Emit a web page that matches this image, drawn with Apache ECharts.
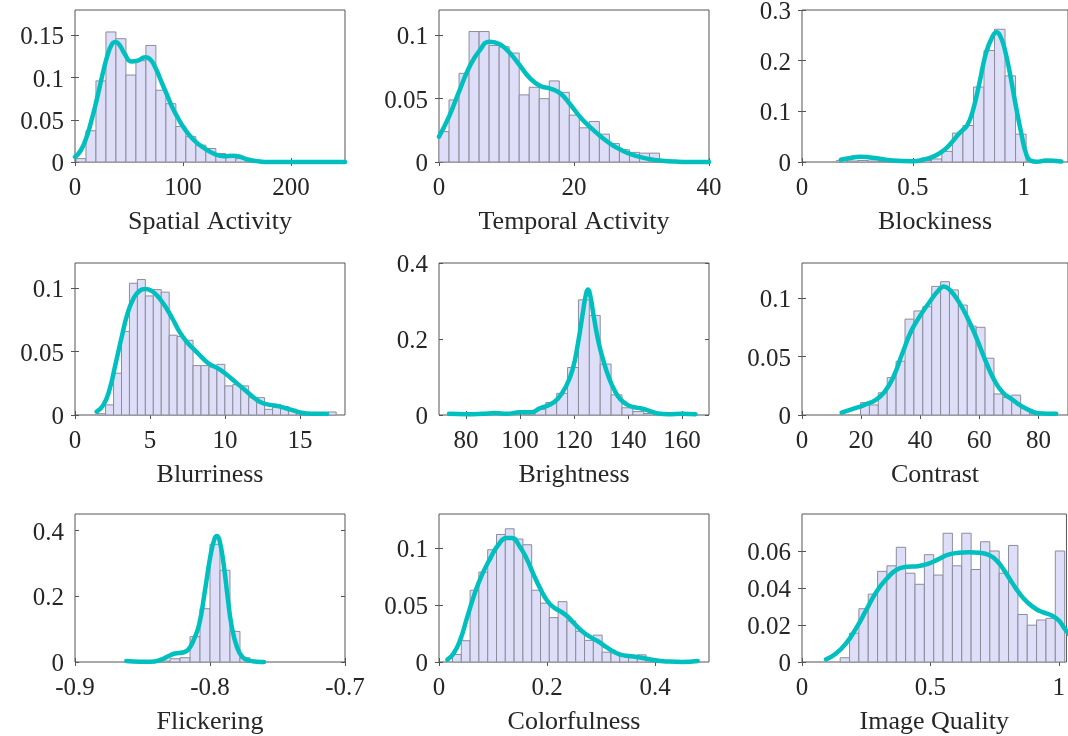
<!DOCTYPE html>
<html><head><meta charset="utf-8">
<script src="https://cdn.jsdelivr.net/npm/echarts@6/dist/echarts.min.js"></script>
<style>html,body{margin:0;padding:0;background:#fff}#c{width:1068px;height:736px}</style>
</head><body><div id="c"></div>
<script>
// ---------- DATA ----------
const names = ['Spatial Activity','Temporal Activity','Blockiness','Blurriness','Brightness','Contrast','Flickering','Colorfulness','Image Quality'];

// bin layout: [first edge, bin width]
const spatialBin = [0.9, 9.25];
const spatialHist = [0.004,0.037,0.096,0.154,0.146,0.103,0.120,0.138,0.085,0.069,0.042,0.030,0.020,0.016,0.010,0.007,0.004,0.002,0.001];
const spatialKde = [[0,0.006],[5,0.013],[10,0.027],[15,0.048],[20,0.073],[25,0.101],[30,0.126],[34,0.139],[37.5,0.142],[41,0.139],[46,0.128],[52,0.119],[58,0.120],[65,0.124],[70,0.121],[75,0.110],[80,0.095],[85,0.080],[90,0.065],[95,0.053],[100,0.042],[110,0.026],[120,0.016],[130,0.009],[138,0.0068],[146,0.0075],[152,0.0065],[160,0.003],[170,0.0008],[180,0],[250,0]];
const spatialXRange = [0,250], spatialYRange = [0,0.18];
const spatialXTicks = [0,100,200], spatialYTicks = [0,0.05,0.1,0.15];

const temporalBin = [0, 1.485];
const temporalHist = [0.024,0.049,0.070,0.103,0.103,0.092,0.091,0.086,0.053,0.059,0.050,0.064,0.055,0.037,0.027,0.032,0.022,0.0145,0.0097,0.0076,0.007,0.007,0.001];
const temporalKde = [[0,0.020],[1.5,0.036],[3,0.056],[4.5,0.075],[6,0.088],[7.5,0.095],[9,0.093],[10.5,0.086],[12,0.076],[13.5,0.066],[15,0.060],[16.5,0.058],[18,0.054],[19.5,0.045],[21,0.035],[22.5,0.027],[24,0.020],[25.5,0.014],[27,0.0095],[28.5,0.006],[30,0.0037],[31.5,0.002],[33,0.001],[35,0.0003],[37,0],[40,0]];
const temporalXRange = [0,40], temporalYRange = [0,0.12];
const temporalXTicks = [0,20,40], temporalYTicks = [0,0.05,0.1];

const blockBin = [0.156, 0.0475];
const blockHist = [0.003,0.002,0.003,0.002,0.001,0.002,0.002,0.001,0.003,0.006,0.021,0.057,0.072,0.148,0.220,0.262,0.170,0.055];
const blockKde = [[0.175,0.0045],[0.22,0.008],[0.26,0.0105],[0.3,0.0095],[0.35,0.0065],[0.4,0.0035],[0.45,0.0018],[0.5,0.0015],[0.55,0.005],[0.6,0.012],[0.64,0.023],[0.68,0.041],[0.70,0.052],[0.725,0.063],[0.745,0.072],[0.77,0.100],[0.80,0.155],[0.83,0.215],[0.86,0.248],[0.878,0.256],[0.895,0.248],[0.915,0.222],[0.94,0.170],[0.965,0.110],[0.99,0.055],[1.01,0.018],[1.03,0.003],[1.06,0.0005],[1.1,0.003],[1.17,0.001]];
const blockXRange = [0,1.2], blockYRange = [0,0.3];
const blockXTicks = [0,0.5,1], blockYTicks = [0,0.1,0.2,0.3];

const blurBin = [1.51, 0.53];
const blurHist = [0.001,0.008,0.033,0.066,0.104,0.107,0.094,0.099,0.097,0.063,0.062,0.059,0.039,0.039,0.038,0.040,0.023,0.024,0.023,0.0137,0.0137,0.0045,0.0084,0.0066,0.0045,0.0026,0.0018,0.001,0.0008,0.0024];
const blurKde = [[1.44,0.0026],[1.9,0.008],[2.3,0.020],[2.7,0.040],[3.1,0.061],[3.5,0.080],[3.9,0.092],[4.3,0.098],[4.7,0.0995],[5.1,0.098],[5.5,0.094],[6.0,0.086],[6.5,0.076],[7.0,0.065],[7.5,0.057],[8.0,0.051],[8.5,0.045],[9.0,0.040],[9.5,0.037],[10.0,0.033],[10.5,0.028],[11.0,0.023],[11.5,0.018],[12.0,0.013],[12.5,0.0095],[13.0,0.008],[13.5,0.007],[14.0,0.0055],[14.5,0.0038],[15.0,0.002],[15.5,0.0012],[16.0,0.001],[16.8,0.001]];
const blurXRange = [0,18], blurYRange = [0,0.12];
const blurXTicks = [0,5,10,15], blurYTicks = [0,0.05,0.1];

const brightBin = [101.5, 4.03];
const brightHist = [0.003,0.015,0.033,0.057,0.125,0.303,0.262,0.134,0.053,0.019,0.009,0.004];
const brightKde = [[73.7,0.003],[80,0.002],[86,0.003],[91,0.005],[95,0.003],[100,0.007],[104,0.007],[107.5,0.018],[111,0.027],[114,0.043],[117,0.075],[119.5,0.12],[121.5,0.19],[123.3,0.27],[124.5,0.32],[125.2,0.33],[126,0.315],[127.3,0.26],[129,0.195],[131,0.14],[133,0.097],[135,0.065],[137,0.043],[139.5,0.028],[142,0.021],[145,0.017],[148,0.011],[151,0.004],[155,0.002],[160,0.003],[165,0.002]];
const brightXRange = [70,170], brightYRange = [0,0.4];
const brightXTicks = [80,100,120,140,160], brightYTicks = [0,0.2,0.4];

const contrastBin = [19.8, 3.01];
const contrastHist = [0.0106,0.0086,0.019,0.032,0.046,0.082,0.089,0.0926,0.110,0.114,0.107,0.094,0.076,0.075,0.0486,0.018,0.015,0.017,0.0057,0.001];
const contrastKde = [[13.4,0.002],[17,0.005],[21,0.0085],[25,0.013],[28,0.020],[31,0.033],[34,0.053],[37,0.072],[40,0.085],[43,0.096],[46,0.106],[48,0.110],[50,0.107],[53,0.097],[56,0.083],[59,0.066],[62,0.047],[65,0.030],[68,0.019],[71,0.0135],[74,0.008],[77,0.004],[80,0.0015],[86,0.001]];
const contrastXRange = [0,90], contrastYRange = [0,0.13];
const contrastXTicks = [0,20,40,60,80], contrastYTicks = [0,0.05,0.1];

const flickerBin = [-0.837, 0.0074];
const flickerHist = [0.003,0.010,0.013,0.077,0.162,0.358,0.279,0.093,0.013];
const flickerKde = [[-0.862,0.003],[-0.852,0.001],[-0.844,0.001],[-0.837,0.006],[-0.831,0.017],[-0.826,0.026],[-0.82,0.029],[-0.816,0.038],[-0.812,0.068],[-0.808,0.115],[-0.804,0.21],[-0.800,0.315],[-0.797,0.37],[-0.795,0.383],[-0.793,0.37],[-0.790,0.30],[-0.787,0.20],[-0.784,0.11],[-0.780,0.045],[-0.776,0.015],[-0.771,0.004],[-0.765,0.001],[-0.76,0]];
const flickerXRange = [-0.9,-0.7], flickerYRange = [0,0.45];
const flickerXTicks = [-0.9,-0.8,-0.7], flickerYTicks = [0,0.2,0.4];

const colorBin = [0.025, 0.0163];
const colorHist = [0.0066,0.0187,0.063,0.079,0.0986,0.112,0.117,0.108,0.103,0.063,0.0517,0.039,0.053,0.036,0.027,0.019,0.0236,0.0086,0.008,0.0066,0.0057,0.0063,0.003,0.0014,0.001,0.0003,0.0008,0.001];
const colorKde = [[0.0155,0.002],[0.027,0.0075],[0.039,0.019],[0.052,0.039],[0.066,0.060],[0.08,0.077],[0.095,0.091],[0.11,0.103],[0.125,0.109],[0.135,0.109],[0.15,0.101],[0.163,0.090],[0.175,0.077],[0.188,0.064],[0.2,0.054],[0.212,0.048],[0.225,0.0445],[0.238,0.040],[0.25,0.034],[0.265,0.027],[0.28,0.022],[0.295,0.018],[0.31,0.013],[0.325,0.0088],[0.34,0.006],[0.36,0.0048],[0.38,0.0033],[0.4,0.0015],[0.425,0.0004],[0.45,0],[0.479,0.0009]];
const colorXRange = [0,0.5], colorYRange = [0,0.13];
const colorXTicks = [0,0.2,0.4], colorYTicks = [0,0.05,0.1];

const qualityBin = [0.1487, 0.03643];
const qualityHist = [0.0023,0.0156,0.0288,0.0367,0.049,0.052,0.062,0.048,0.042,0.058,0.047,0.0696,0.052,0.0696,0.050,0.065,0.060,0.048,0.063,0.0257,0.0199,0.0227,0.0236,0.060];
const qualityKde = [[0.0936,0.0014],[0.13,0.0043],[0.17,0.0098],[0.21,0.018],[0.25,0.028],[0.29,0.038],[0.33,0.045],[0.37,0.050],[0.41,0.0515],[0.45,0.0518],[0.49,0.053],[0.53,0.0555],[0.57,0.058],[0.61,0.059],[0.65,0.0593],[0.69,0.059],[0.73,0.0577],[0.76,0.0545],[0.79,0.049],[0.82,0.0425],[0.85,0.0365],[0.88,0.032],[0.91,0.0288],[0.94,0.0268],[0.97,0.0253],[1.0,0.0225],[1.02,0.0186],[1.04,0.015]];
const qualityXRange = [0,1.03], qualityYRange = [0,0.08];
const qualityXTicks = [0,0.5,1], qualityYTicks = [0,0.02,0.04,0.06];

// ---------- BUILD ----------
const panels = [
  [spatialBin, spatialHist, spatialKde, spatialXRange, spatialYRange, spatialXTicks, spatialYTicks],
  [temporalBin, temporalHist, temporalKde, temporalXRange, temporalYRange, temporalXTicks, temporalYTicks],
  [blockBin, blockHist, blockKde, blockXRange, blockYRange, blockXTicks, blockYTicks],
  [blurBin, blurHist, blurKde, blurXRange, blurYRange, blurXTicks, blurYTicks],
  [brightBin, brightHist, brightKde, brightXRange, brightYRange, brightXTicks, brightYTicks],
  [contrastBin, contrastHist, contrastKde, contrastXRange, contrastYRange, contrastXTicks, contrastYTicks],
  [flickerBin, flickerHist, flickerKde, flickerXRange, flickerYRange, flickerXTicks, flickerYTicks],
  [colorBin, colorHist, colorKde, colorXRange, colorYRange, colorXTicks, colorYTicks],
  [qualityBin, qualityHist, qualityKde, qualityXRange, qualityYRange, qualityXTicks, qualityYTicks]
];

const colLeft = [75, 439, 802];
const rowTop = [10, 263, 514];
const W = 270, H = 152;
const FONT = "'Liberation Serif','Times New Roman',serif";
const TXT = '#262626';
const AX = '#555555';
const fmt = v => String(parseFloat(Number(v).toFixed(6)));
const fmtY = v => '{a|' + fmt(v) + '}';

function renderBar(params, api) {
  const p0 = api.coord([api.value(0), api.value(2)]);
  const p1 = api.coord([api.value(1), 0]);
  return {
    type: 'rect',
    shape: { x: p0[0], y: p0[1], width: p1[0] - p0[0], height: p1[1] - p0[1] },
    style: { fill: '#DEDEF8', stroke: '#8C8C9A', lineWidth: 1 }
  };
}

const grids = [], xAxes = [], yAxes = [], series = [];
panels.forEach((p, i) => {
  const [bin, hist, kde, xr, yr, xt, yt] = p;
  const r = Math.floor(i / 3), c = i % 3;
  grids.push({ left: colLeft[c], top: rowTop[r], width: W, height: H, show: true,
    borderColor: AX, borderWidth: 1, backgroundColor: 'transparent' });
  const lab = { fontFamily: FONT, fontSize: 25, color: TXT };
  xAxes.push({ gridIndex: i, type: 'value', min: xr[0], max: xr[1], position: 'bottom',
    name: names[i], nameLocation: 'middle', nameGap: 47,
    nameTextStyle: { fontFamily: FONT, fontSize: 26, color: TXT },
    axisLine: { show: false }, splitLine: { show: false },
    axisTick: { inside: true, length: 4, lineStyle: { color: AX }, customValues: xt },
    axisLabel: Object.assign({ customValues: xt, formatter: fmt, margin: 14, hideOverlap: false }, lab) });
  xAxes.push({ gridIndex: i, type: 'value', min: xr[0], max: xr[1], position: 'top',
    axisLine: { show: false }, splitLine: { show: false },
    axisTick: { inside: true, length: 4, lineStyle: { color: AX }, customValues: xt },
    axisLabel: { show: false } });
  yAxes.push({ gridIndex: i, type: 'value', min: yr[0], max: yr[1], position: 'left',
    axisLine: { show: false }, splitLine: { show: false },
    axisTick: { inside: true, length: 4, lineStyle: { color: AX }, customValues: yt },
    axisLabel: Object.assign({ customValues: yt, formatter: fmtY, margin: 11, hideOverlap: false,
      rich: { a: { fontFamily: FONT, fontSize: 25, color: TXT, padding: [5, 0, 0, 0] } } }, lab) });
  yAxes.push({ gridIndex: i, type: 'value', min: yr[0], max: yr[1], position: 'right',
    axisLine: { show: false }, splitLine: { show: false },
    axisTick: { inside: true, length: 4, lineStyle: { color: AX }, customValues: yt },
    axisLabel: { show: false } });
  const bars = hist.map((h, k) => [bin[0] + k * bin[1], bin[0] + (k + 1) * bin[1], h]);
  series.push({ type: 'custom', xAxisIndex: 2 * i, yAxisIndex: 2 * i, renderItem: renderBar,
    data: bars, encode: { x: [0, 1], y: 2 }, silent: true, z: 2 });
  series.push({ type: 'line', xAxisIndex: 2 * i, yAxisIndex: 2 * i, data: kde,
    smooth: 0.5, symbol: 'none', showSymbol: false, clip: false,
    lineStyle: { color: '#00BFBF', width: 4.5, cap: 'round', join: 'round' }, silent: true, z: 3 });
});

const chart = echarts.init(document.getElementById('c'), null, { renderer: 'canvas' });
chart.setOption({ animation: false, backgroundColor: '#ffffff',
  grid: grids, xAxis: xAxes, yAxis: yAxes, series: series });
</script></body></html>
